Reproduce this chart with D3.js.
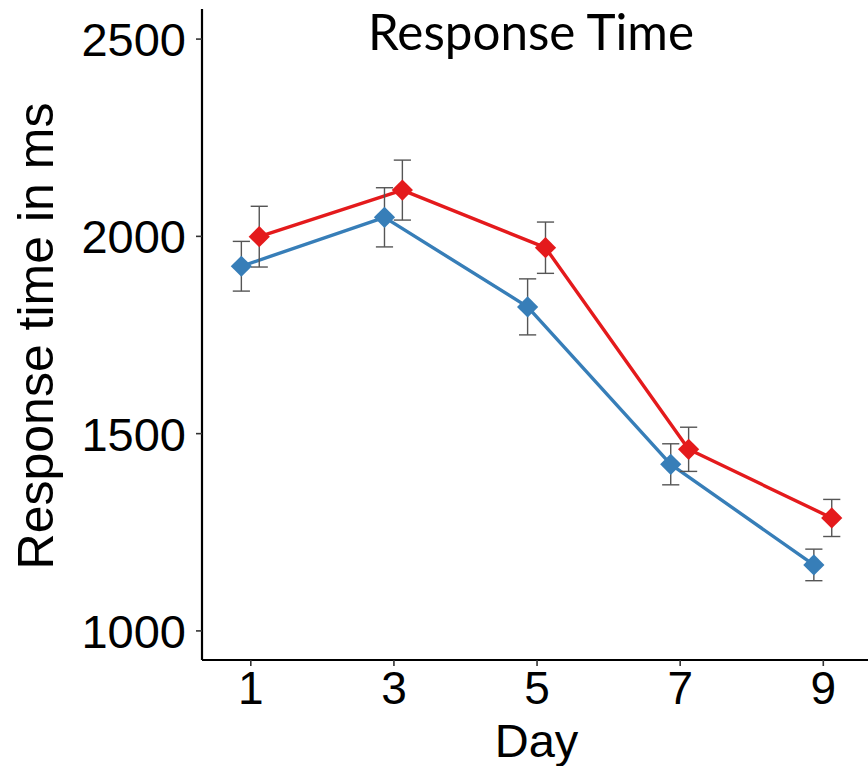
<!DOCTYPE html>
<html>
<head>
<meta charset="utf-8">
<script src="https://cdn.jsdelivr.net/npm/d3@7"></script>
<style>
  html, body { margin: 0; padding: 0; background: #fff; }
  svg { display: block; }
</style>
</head>
<body>
<svg id="chart" width="868" height="766"></svg>
<script>
// ---- data ----
const days = [1, 3, 5, 7, 9];
const blueMean = [1923, 2047, 1820, 1421, 1166];
const blueSE   = [63, 75, 71, 52, 40];
const redMean  = [1998, 2116, 1970, 1459, 1285];
const redSE    = [77, 76, 65, 56, 47];
const yTicks = [1000, 1500, 2000, 2500];
const xTicks = [1, 3, 5, 7, 9];
const titleText = "Response Time";
const xTitle = "Day";
const yTitle = "Response time in ms";

const groups = [
  { name: "A", mean: blueMean, se: blueSE, color: "#377EB8", offset: -0.125 },
  { name: "B", mean: redMean,  se: redSE,  color: "#E41A1C", offset: 0.125 }
];

const svg = d3.select("#chart");
const W = 868, H = 766;
const padL = 202, padB = 660, padT = 9;

const x = d3.scaleLinear().domain([0.325, 9.675]).range([padL, 871.1]);
const y = d3.scaleLinear().domain([925, 2575]).range([padB, padT]);

const tickFont = "Liberation Sans, Arial, Helvetica, sans-serif";

// y axis
const yAxis = svg.append("g").attr("transform", `translate(${padL},0)`)
  .call(d3.axisLeft(y).tickValues(yTicks).tickSize(6).tickPadding(10).tickFormat(d3.format("d")));
yAxis.select(".domain").attr("d", `M0,${padT}V${padB}`).attr("stroke", "#000").attr("stroke-width", 2.2);
yAxis.selectAll(".tick line").attr("stroke", "#333").attr("stroke-width", 1.6);
yAxis.selectAll(".tick text").attr("font-family", tickFont).attr("font-size", 47).attr("fill", "#000").attr("dy", "0.36em");

// x axis
const xAxis = svg.append("g").attr("transform", `translate(0,${padB})`)
  .call(d3.axisBottom(x).tickValues(xTicks).tickSize(6).tickPadding(5).tickFormat(d3.format("d")));
xAxis.select(".domain").attr("d", `M${padL},0H${W}`).attr("stroke", "#000").attr("stroke-width", 2.2);
xAxis.selectAll(".tick line").attr("stroke", "#333").attr("stroke-width", 1.6);
xAxis.selectAll(".tick text").attr("font-family", tickFont).attr("font-size", 46).attr("fill", "#000").attr("dy", "0.71em");

// axis titles
svg.append("text").attr("x", (x(1) + x(9)) / 2).attr("y", 757)
  .attr("text-anchor", "middle").attr("font-family", tickFont).attr("font-size", 47).attr("fill", "#000")
  .text(xTitle);
svg.append("text").attr("transform", `translate(53,${(100 + 572) / 2}) rotate(-90)`)
  .attr("text-anchor", "middle").attr("font-family", tickFont).attr("font-size", 50).attr("fill", "#000")
  .text(yTitle);

// title
const t = svg.append("text").attr("x", 531).attr("y", 50)
  .attr("text-anchor", "middle").attr("font-family", "Lato, Open Sans, sans-serif").attr("font-size", 40).attr("fill", "#000")
  .text(titleText);
const tw = t.node().getComputedTextLength();
t.attr("font-size", 40 * 326 / tw);

// lines
const line = d3.line().x(d => x(d.day)).y(d => y(d.v));
groups.forEach(g => {
  const pts = days.map((d, i) => ({ day: d + g.offset, v: g.mean[i] }));
  svg.append("path").datum(pts).attr("d", line)
    .attr("fill", "none").attr("stroke", g.color).attr("stroke-width", 3.4).attr("stroke-linejoin", "round");
});

// error bars
const cap = 0.12;
groups.forEach(g => {
  const eb = svg.append("g").attr("stroke", "#555").attr("stroke-width", 1.4).attr("fill", "none");
  days.forEach((d, i) => {
    const cx = d + g.offset;
    const lo = g.mean[i] - g.se[i], hi = g.mean[i] + g.se[i];
    eb.append("line").attr("x1", x(cx)).attr("x2", x(cx)).attr("y1", y(lo)).attr("y2", y(hi));
    eb.append("line").attr("x1", x(cx - cap)).attr("x2", x(cx + cap)).attr("y1", y(lo)).attr("y2", y(lo));
    eb.append("line").attr("x1", x(cx - cap)).attr("x2", x(cx + cap)).attr("y1", y(hi)).attr("y2", y(hi));
  });
});

// points (diamonds)
const diamond = d3.symbol().type(d3.symbolSquare).size(225);
groups.forEach(g => {
  svg.append("g").selectAll("path").data(days.map((d, i) => ({ day: d + g.offset, v: g.mean[i] })))
    .join("path")
    .attr("d", diamond)
    .attr("transform", d => `translate(${x(d.day)},${y(d.v)}) rotate(45)`)
    .attr("fill", g.color);
});
</script>
</body>
</html>
